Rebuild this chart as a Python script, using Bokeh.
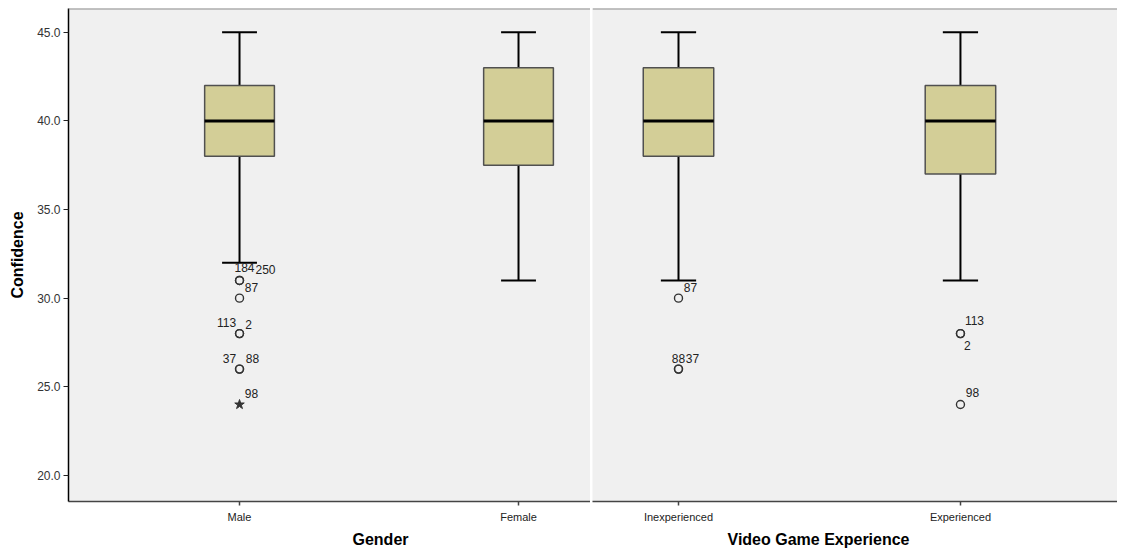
from bokeh.plotting import figure
from bokeh.models import Range1d, FixedTicker, NumeralTickFormatter, Span, Title, ColumnDataSource
from bokeh.layouts import row
from bokeh.embed import file_html
from bokeh.resources import INLINE
from bokeh.core.properties import value

# ---------------- data ----------------
gender_cats = ["Male", "Female"]
gender_low = [32, 31]
gender_q1 = [38, 37.5]
gender_med = [40, 40]
gender_q3 = [42, 43]
gender_high = [45, 45]
gender_out_cat = ["Male", "Male", "Male", "Male", "Male", "Male", "Male"]
gender_out_val = [31, 31, 30, 28, 28, 26, 26]
gender_out_id = ["184", "250", "87", "113", "2", "37", "88"]
gender_ext_cat = ["Male"]
gender_ext_val = [24]
gender_ext_id = ["98"]

exp_cats = ["Inexperienced", "Experienced"]
exp_low = [31, 31]
exp_q1 = [38, 37]
exp_med = [40, 40]
exp_q3 = [43, 42]
exp_high = [45, 45]
exp_out_cat = ["Inexperienced", "Inexperienced", "Inexperienced", "Experienced", "Experienced", "Experienced"]
exp_out_val = [30, 26, 26, 28, 28, 24]
exp_out_id = ["87", "88", "37", "113", "2", "98"]
exp_ext_cat = []
exp_ext_val = []
exp_ext_id = []

y_ticks = [20, 25, 30, 35, 40, 45]

# ---------------- label placement (screen px offsets) ----------------
gender_offsets = {"184": (5, -13), "250": (26, -11), "87": (12, -11), "113": (-13, -11),
                  "2": (9, -9), "37": (-10, -11), "88": (13, -11), "98": (12, -11)}
exp_offsets = {"87": (12, -11), "88": (0, -11), "37": (14, -11), "113": (14, -13),
               "2": (7, 12), "98": (12, -12)}

FONT = "Liberation Sans"
BOX_FILL = "#D3CE97"
BG = "#F0F0F0"
BOX_W = 0.25
CAP_HALF = 0.0625

y_range = Range1d(18.53, 46.34)


def make_panel(cats, low, q1, med, q3, high, out_cat, out_val, out_id,
               ext_cat, ext_val, ext_id, offsets, x_range, title, title_offset,
               width, border_left, show_y):
    p = figure(width=width, height=551, x_range=x_range, y_range=y_range,
               output_backend="svg", toolbar_location=None,
               min_border_left=border_left, min_border_right=0,
               min_border_top=8, min_border_bottom=50,
               background_fill_color=BG, border_fill_color="white",
               outline_line_color=None,
               y_axis_location="left" if show_y else None)
    p.xgrid.visible = False
    p.ygrid.visible = False

    pos = list(range(len(cats)))
    idx = {c: i for i, c in enumerate(cats)}

    # whiskers
    p.segment(x0=pos, x1=pos, y0=q3, y1=high, line_color="black", line_width=2)
    p.segment(x0=pos, x1=pos, y0=q1, y1=low, line_color="black", line_width=2)
    p.segment(x0=[x - CAP_HALF for x in pos], x1=[x + CAP_HALF for x in pos],
              y0=high, y1=high, line_color="black", line_width=2)
    p.segment(x0=[x - CAP_HALF for x in pos], x1=[x + CAP_HALF for x in pos],
              y0=low, y1=low, line_color="black", line_width=2)
    # boxes
    p.vbar(x=pos, width=BOX_W, bottom=q1, top=q3, fill_color=BOX_FILL,
           line_color="#505050", line_width=1.5)
    # medians
    p.segment(x0=[x - BOX_W / 2 for x in pos], x1=[x + BOX_W / 2 for x in pos],
              y0=med, y1=med, line_color="black", line_width=3)

    # outliers
    if out_val:
        src = ColumnDataSource(dict(
            x=[idx[c] for c in out_cat], y=out_val, id=out_id,
            dx=[offsets[i][0] for i in out_id], dy=[offsets[i][1] for i in out_id]))
        p.scatter(x="x", y="y", source=src, marker="circle", size=8,
                  fill_color=None, line_color="#333333", line_width=1.4)
        p.text(x="x", y="y", text="id", x_offset="dx", y_offset="dy", source=src,
               text_align="center", text_baseline="middle",
               text_font=value(FONT), text_font_size="12px", text_color="#222222")
    if ext_val:
        src2 = ColumnDataSource(dict(
            x=[idx[c] for c in ext_cat], y=ext_val, id=ext_id,
            dx=[offsets[i][0] for i in ext_id], dy=[offsets[i][1] for i in ext_id]))
        p.scatter(x="x", y="y", source=src2, marker="star", size=10,
                  fill_color="#333333", line_color="#333333", line_width=1)
        p.text(x="x", y="y", text="id", x_offset="dx", y_offset="dy", source=src2,
               text_align="center", text_baseline="middle",
               text_font=value(FONT), text_font_size="12px", text_color="#222222")

    # x axis
    xa = p.xaxis[0]
    xa.ticker = FixedTicker(ticks=pos)
    xa.major_label_overrides = {i: c for i, c in enumerate(cats)}
    xa.minor_tick_line_color = None
    xa.major_tick_in = 0
    xa.major_tick_out = 4
    xa.axis_line_color = "#444444"
    xa.axis_line_width = 1.5
    xa.major_tick_line_color = "#444444"
    xa.major_tick_line_width = 1.5
    xa.major_label_text_font = FONT
    xa.major_label_text_font_size = "11px"
    xa.major_label_text_color = "#222222"
    xa.major_label_standoff = 5

    if show_y:
        ya = p.yaxis[0]
        ya.ticker = FixedTicker(ticks=y_ticks)
        ya.formatter = NumeralTickFormatter(format="0.0")
        ya.minor_tick_line_color = None
        ya.major_tick_in = 0
        ya.major_tick_out = 5
        ya.axis_line_color = "black"
        ya.axis_line_width = 1.5
        ya.major_tick_line_color = "#222222"
        ya.major_label_text_font = FONT
        ya.major_label_text_font_size = "12px"
        ya.major_label_text_color = "#333333"
        ya.major_label_standoff = 3
        ya.axis_label = "Confidence"
        ya.axis_label_text_font = FONT
        ya.axis_label_text_font_size = "16px"
        ya.axis_label_text_font_style = "bold"
        ya.axis_label_text_color = "black"
        ya.axis_label_standoff = 8

    # top border
    p.add_layout(Span(location=y_range.end, dimension="width",
                      line_color="#8c8c8c", line_width=2))

    # axis title (centred between the two categories)
    p.add_layout(Title(text=title, align="left", offset=title_offset, standoff=6,
                       text_font=FONT, text_font_size="16px",
                       text_font_style="bold", text_color="black"), "below")
    return p


p1 = make_panel(gender_cats, gender_low, gender_q1, gender_med, gender_q3, gender_high,
                gender_out_cat, gender_out_val, gender_out_id,
                gender_ext_cat, gender_ext_val, gender_ext_id, gender_offsets,
                Range1d(-0.613, 1.258), "Gender", 284, 590, 68, True)
p2 = make_panel(exp_cats, exp_low, exp_q1, exp_med, exp_q3, exp_high,
                exp_out_cat, exp_out_val, exp_out_id,
                exp_ext_cat, exp_ext_val, exp_ext_id, exp_offsets,
                Range1d(-0.305, 1.557), "Video Game Experience", 135, 527, 2, False)

layout = row(p1, p2)
open("out.html", "w").write(file_html(layout, INLINE))
